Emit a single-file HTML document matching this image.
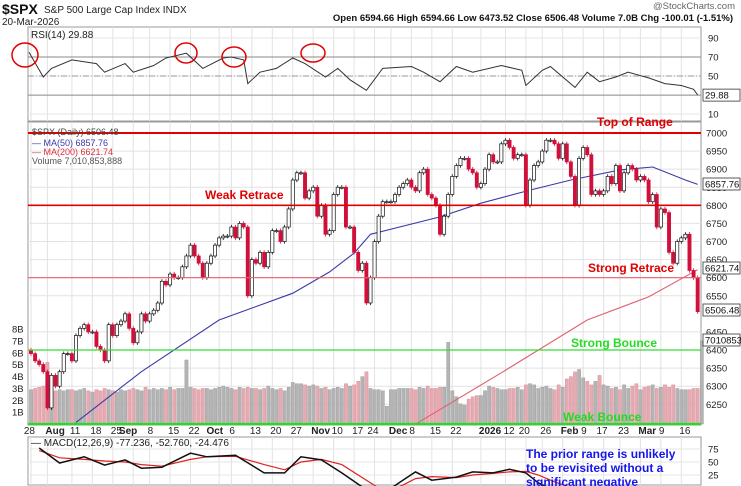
<!DOCTYPE html>
<html><head><meta charset="utf-8"><style>
body{margin:0;background:#fff;width:741px;height:486px;overflow:hidden}
svg{display:block;font-family:"Liberation Sans",sans-serif;overflow:hidden}
</style></head><body>
<svg id="c" width="741" height="486" viewBox="0 0 741 486"></svg>
<script>
const closes=[6390,6370,6360,6340,6240, 6330,6300,6340,6390,6390, 6370,6440,6460,6470,6450, 6450,6410,6400,6370,6470, 6440,6470,6480,6500,6460, 6420,6450,6500,6480,
6500,6510,6530,6590,6580, 6610,6600,6600,6630,6660, 6690,6660,6640,6600,6640, 6660,6690,6710,6715,6715, 6740,6710,6750,6740,6550, 6650,6640,6670,6630,6670,
6730,6730,6700,6740,6790, 6870,6890,6890,6820,6840, 6850,6770,6800,6720,6730, 6830,6850,6850,6740,6740, 6670,6620,6640,6530,6600, 6700,6770,6810,6810,
6810,6830,6850,6860,6870, 6850,6840,6890,6900,6830, 6820,6800,6720,6770,6830, 6880,6910,6930,6930, 6900,6890,6850,6860, 6900,6940,6920,6920,6970,
6980,6960,6930,6940,6940, 6800,6870,6910,6920, 6950,6980,6980,6970,6930, 6970,6920,6880,6800,6930, 6960,6940,6830,6840,6830, 6840,6880,6860,6910,
6840,6890,6910,6900,6870, 6880,6870,6810,6830,6740, 6790,6780,6670,6640,6700, 6710,6720,6620,6600,6506];
const volumes=[2.9,3.0,3.1,3.2,5.2, 3.0,2.8,2.9,2.8,2.9, 2.9,2.8,2.9,3.0,2.8, 2.7,2.9,2.8,3.0,2.9, 2.8,2.7,2.9,2.8,2.9, 3.0,2.9,2.8,3.1,
2.9,3.0,2.9,3.0,2.9, 3.1,2.9,3.0,3.0,5.4, 3.1,3.0,2.9,3.0,3.0, 2.9,3.0,3.1,3.2,3.1, 3.0,2.9,3.1,3.0,3.1, 3.0,3.0,2.9,3.0,3.2,
3.0,2.9,3.0,2.8,3.1, 3.5,3.4,3.4,3.3,3.2, 3.3,3.2,3.0,3.1,2.9, 3.0,3.1,3.0,3.4,3.2, 3.3,3.6,4.0,4.4,3.0, 2.9,2.9,2.8,1.5,
2.9,2.9,3.0,3.0,3.0, 3.0,2.9,3.1,3.0,3.2, 3.0,3.0,3.1,3.1,6.9, 2.8,2.3,1.7,1.6, 2.1,2.3,2.4,2.4, 2.8,3.2,3.1,3.0,2.9,
2.9,3.0,3.0,3.1,2.9, 3.3,3.4,3.3,3.0,3.1, 3.2,3.0,2.9,3.3,3.1, 3.8,4.0,4.4,4.6,3.9, 3.6,3.3,3.6,4.1,3.3, 3.2,3.0,3.1,2.9,
3.3,3.0,3.2,3.4,2.9, 3.1,3.2,3.3,3.0,3.1, 3.3,3.1,3.3,3.0,2.9, 2.9,2.9,3.0,3.0,7.0];
const ma50Idx=[11,27,46,64,73,79,83,100,110,122,132,144,152,160,163];
const ma50Val=[6200,6340,6483,6557,6616,6668,6720,6768,6806,6842,6870,6898,6906,6870,6858];
const ma200Idx=[94,115,136,151,163];
const ma200Val=[6195,6337,6483,6547,6622];
const rsiIdx=[-0.5,3,5,10,16,18,23,25,30,33,38,42,47,49,52,53,56,60,64,67,72,75,78,82,86,93,96,100,104,108,115,120,121,125,127,133,136,139,143,146,151,155,159,162,163];
const rsiVal=[75,49,58,67,63,54,63,54,61,69,74,58,69,70,67,42,54,58,69,63,49,58,46,35,58,60,54,44,60,54,61,56,40,56,60,38,54,44,49,54,48,42,40,36,30];
const macdIdx=[2,7,13,18,23,27,32,39,43,50,57,62,66,71,76,81,85,90,94,98,104,108,113,117,121,124,128,133,138,143,148,153,158,163];
const macdVal=[77,48,60,44,54,38,40,67,60,63,29,29,60,54,29,2,-17,10,31,15,21,31,29,36,29,10,-5,-20,-10,-25,-35,-50,-65,-77];
const sigVal=[72,58,55,52,50,45,42,55,60,61,45,35,50,55,45,20,0,2,18,22,20,25,28,31,32,25,12,-2,-8,-15,-25,-35,-45,-53];
const priceTicks=[7000,6950,6900,6850,6800,6750,6700,6650,6600,6550,6450,6400,6350,6300,6250];
const volTicks=[1,2,3,4,5,6,7,8];
const rsiTicks=[90,70,50,10];
const macdTicks=[75,50,25];
const dateLabels=["28","Aug","11","18","25","Sep","8","15","22","Oct","6","13","20","27","Nov","10","17","24","Dec","8","15","22","2026","12","20","26","Feb","9","17","23","Mar","9","16"];
const dateIdx=[0,4,10,15,20,25,29,34,39,46,49,54,59,64,69,74,79,84,88,93,98,103,110,116,121,125,130,135,140,144,149,154,159];
const monthLbl=["Aug","Sep","Oct","Nov","Dec","2026","Feb","Mar"];

const S=document.getElementById('c');const NS='http://www.w3.org/2000/svg';
function mk(t,a,txt){const e=document.createElementNS(NS,t);for(const k in a)e.setAttribute(k,a[k]);if(txt!==undefined)e.textContent=txt;S.appendChild(e);return e;}
const L=28,R=701;
const X=i=>31+i*4.09;
const PY=p=>133+(7000-p)*0.3617;
const VY=v=>424-v*11.86;
const RY=v=>76-(v-50)*0.95;
const MY=v=>462-(v-50)*0.52;

mk('rect',{x:L,y:27,width:R-L,height:94,fill:'#fff',stroke:'#999'});
mk('rect',{x:L,y:122,width:R-L,height:303,fill:'#fff',stroke:'#999'});
mk('rect',{x:L,y:437,width:R-L,height:48,fill:'#fff',stroke:'#999'});
dateIdx.forEach((d,k)=>{const x=X(d);
 [[27,121],[122,425],[437,485]].forEach(r=>{const g=mk('line',{x1:x,x2:x,y1:r[0],y2:r[1],stroke:'#e2e2e2'});});
 const bold=monthLbl.includes(dateLabels[k]);
 const close=k<dateIdx.length-1&&X(dateIdx[k+1])-x<20;
 const t=mk('text',{x:close?x+4:x-2,y:434,'font-size':10,'font-weight':bold?'bold':'normal',fill:'#222','text-anchor':close?'end':'start'},dateLabels[k]);
 
});
priceTicks.forEach(p=>{const y=PY(p);
 const g=mk('line',{x1:L,x2:R,y1:y,y2:y,stroke:'#e2e2e2'});
 const t=mk('text',{x:706,y:y+3.5,'font-size':9.5,fill:'#222'},p);});
volTicks.forEach(v=>{const t=mk('text',{x:12,y:VY(v)+3.5,'font-size':9.5,fill:'#222'},v+'B');});
rsiTicks.forEach(v=>{const t=mk('text',{x:708,y:RY(v)+3.5,'font-size':9.5,fill:'#222'},v);
 const g=mk('line',{x1:L,x2:R,y1:RY(v),y2:RY(v),stroke:'#e6e6e6'});});
macdTicks.forEach(v=>{const t=mk('text',{x:708,y:MY(v)+3.5,'font-size':9.5,fill:'#222'},v);
 const g=mk('line',{x1:L,x2:R,y1:MY(v),y2:MY(v),stroke:'#e6e6e6'});});

volumes.forEach((v,i)=>{const down=i>0&&closes[i]<closes[i-1];
 const b=mk('rect',{x:X(i)-1.6,y:VY(v),width:3.3,height:424-VY(v),fill:down?'#e6aab2':'#b4b4b4',stroke:down?'#d38f99':'#9a9a9a','stroke-width':0.4});
 });

function poly(idx,val,fy,col,w,name){const d=idx.map((k,j)=>(j?'L':'M')+X(k).toFixed(1)+','+fy(val[j]).toFixed(1)).join('');
 const p=mk('path',{d:d,fill:'none',stroke:col,'stroke-width':w});return p;}
poly(ma50Idx,ma50Val,PY,'#3a3aa8',1.1,'ma50-line');
poly(ma200Idx,ma200Val,PY,'#e06070',1.1,'ma200-line');

closes.forEach((c,i)=>{const o=i?closes[i-1]:c+10;const down=c<o;const col=down?'#d0103a':'#111';
 const hi=Math.max(o,c)+6,lo=Math.min(o,c)-6;const x=X(i);
 const w=mk('line',{x1:x,x2:x,y1:PY(hi),y2:PY(lo),stroke:col,'stroke-width':0.8});
 const top=PY(Math.max(o,c)),h=Math.max(1,Math.abs(PY(o)-PY(c)));
 const b=mk('rect',{x:x-1.6,y:top,width:3.2,height:h,fill:down?col:'#fff',stroke:col,'stroke-width':0.7});});

function hl(y,col,w,name){const l=mk('line',{x1:L,x2:R,y1:y,y2:y,stroke:col,'stroke-width':w});}
hl(PY(7000),'#e00000',2,'top-of-range-line');
hl(PY(6800),'#e00000',1.6,'weak-retrace-line');
hl(PY(6600),'#e86070',1.2,'strong-retrace-line');
hl(PY(6400),'#33dd33',1.2,'strong-bounce-line');
hl(424,'#22dd22',2.2,'weak-bounce-line');
function lab(x,y,txt,col,name){const t=mk('text',{x:x,y:y,'font-size':12,'font-weight':'bold',fill:col},txt);}
lab(597,126,'Top of Range','#e00000','top-of-range-label');
lab(205,199,'Weak Retrace','#e00000','weak-retrace-label');
lab(588,272,'Strong Retrace','#e00000','strong-retrace-label');
lab(571,347,'Strong Bounce','#22dd22','strong-bounce-label');
lab(563,421,'Weak Bounce','#22dd22','weak-bounce-label');

[70,29.88].forEach(v=>{const l=mk('line',{x1:L,x2:R,y1:RY(v),y2:RY(v),stroke:'#888','stroke-width':1});});
const m=mk('line',{x1:L,x2:R,y1:RY(50),y2:RY(50),stroke:'#999','stroke-dasharray':'6,2,1,2'});
poly(rsiIdx,rsiVal,RY,'#333',1,'rsi-line');
[[25,55,13,12],[186,53,11,10],[234,57,12,10],[313,53,12,9]].forEach(e=>{const c=mk('ellipse',{cx:e[0],cy:e[1],rx:e[2],ry:e[3],fill:'none',stroke:'#e00000','stroke-width':1.5});});

poly(macdIdx,sigVal,MY,'#e02020',1.2,'macd-signal-line');
poly(macdIdx,macdVal,MY,'#111',1.5,'macd-line');

function box(y,txt,name){const g=mk('rect',{x:703,y:y-6,width:37,height:12,fill:'#fff',stroke:'#333','stroke-width':0.8});
 const t=mk('text',{x:705,y:y+3.5,'font-size':9.5,fill:'#111'},txt);}
box(184,'6857.76','ma50-value-box');box(268,'6621.74','ma200-value-box');box(310,'6506.48','close-value-box');box(340,'7010853','volume-value-box');box(RY(29.88),'29.88','rsi-value-box');

function txt(x,y,s,sz,col,w,name,anchor){const t=mk('text',{x:x,y:y,'font-size':sz,fill:col,'font-weight':w||'normal','text-anchor':anchor||'start'},s);}
txt(2,14,'$SPX',14,'#111','bold','ticker-symbol');
txt(44,13,'S&P 500 Large Cap Index  INDX',10,'#222','','index-name');
txt(2,25,'20-Mar-2026',10,'#222','','chart-date');
txt(735,9,'@StockCharts.com',9.5,'#666','','watermark','end');
txt(733,21,'Open 6594.66  High 6594.66  Low 6473.52  Close 6506.48  Volume 7.0B  Chg -100.01 (-1.51%)',9.5,'#111','bold','ohlc-summary','end');
txt(31,38,'RSI(14) 29.88',10,'#222','','rsi-legend');
txt(32,135,'$SPX (Daily) 6506.48',9,'#444','','price-legend');
txt(32,146,'— MA(50) 6857.76',9,'#3a3aa8','','ma50-legend');
txt(32,155,'— MA(200) 6621.74',9,'#e03040','','ma200-legend');
txt(32,164,'Volume 7,010,853,888',9,'#555','','volume-legend');
txt(31,446,'— MACD(12,26,9) -77.236, -52.760, -24.476',10,'#222','','macd-legend');
txt(526,458,'The prior range is unlikely',12,'#1515ee','bold','note-line1');
txt(526,472,'to be revisited without a',12,'#1515ee','bold','note-line2');
txt(526,486,'significant negative',12,'#1515ee','bold','note-line3');
</script>
</body></html>
